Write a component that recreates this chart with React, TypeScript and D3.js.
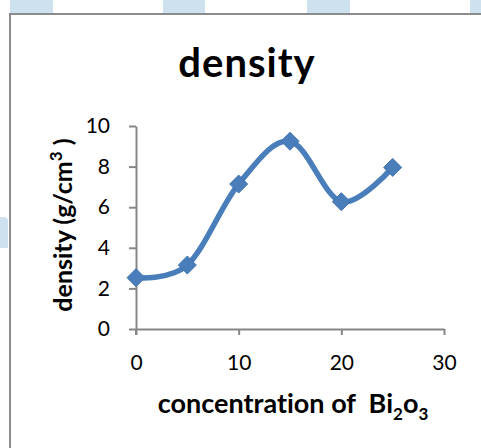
import React, { useEffect, useRef } from "react";
import * as d3 from "d3";

const concentration = [0, 5, 10, 15, 20, 25];
const density = [2.53, 3.15, 7.14, 9.25, 6.27, 7.96];
const xTicks = [0, 10, 20, 30];
const yTicks = [0, 2, 4, 6, 8, 10];

const width = 481;
const height = 448;
const font = "Lato, 'Open Sans', sans-serif";

export default function App() {
  const ref = useRef<SVGSVGElement>(null);

  useEffect(() => {
    const svg = d3.select(ref.current);
    svg.selectAll("*").remove();

    const margin = { top: 126, right: 37, bottom: 119, left: 136 };
    const x = d3.scaleLinear().domain([0, 30]).range([margin.left, width - margin.right]);
    const y = d3.scaleLinear().domain([0, 10]).range([height - margin.bottom, margin.top]);

    // background decoration from the page behind the chart
    const bands = [[10, 53], [163, 205], [307, 350], [470, 481]];
    svg.selectAll(".band")
      .data(bands)
      .enter()
      .append("rect")
      .attr("x", d => d[0])
      .attr("y", 0)
      .attr("width", d => d[1] - d[0])
      .attr("height", 14)
      .attr("fill", "#cde2ee");
    svg.append("path")
      .attr("d", "M0,248 L0,217 L4,217 Q8,217 8,221 L8,248 Z")
      .attr("fill", "#cde2ee");

    // chart frame
    svg.append("path")
      .attr("d", `M10,${height} L10,14 L${width},14`)
      .attr("fill", "none")
      .attr("stroke", "#8c8c8c")
      .attr("stroke-width", 2);

    svg.append("text")
      .attr("x", 247)
      .attr("y", 77)
      .attr("text-anchor", "middle")
      .attr("font-family", font)
      .attr("font-weight", "bold")
      .attr("font-size", 40)
      .attr("letter-spacing", 1)
      .text("density");

    const axisColor = "#868686";

    const xAxis = svg.append("g")
      .attr("transform", `translate(0,${y(0)})`)
      .call(d3.axisBottom(x).tickValues(xTicks).tickSize(6).tickSizeOuter(0).tickPadding(20));
    xAxis.select(".domain").attr("stroke", axisColor).attr("stroke-width", 2);
    xAxis.selectAll(".tick line").attr("stroke", axisColor).attr("stroke-width", 2);
    xAxis.selectAll(".tick text")
      .attr("fill", "#000")
      .attr("font-family", font)
      .attr("font-size", 21);

    const yAxis = svg.append("g")
      .attr("transform", `translate(${x(0)},0)`)
      .call(d3.axisLeft(y).tickValues(yTicks).tickSize(7).tickSizeOuter(0).tickPadding(19));
    yAxis.select(".domain").attr("stroke", axisColor).attr("stroke-width", 2);
    yAxis.selectAll(".tick line").attr("stroke", axisColor).attr("stroke-width", 2);
    yAxis.selectAll(".tick text")
      .attr("fill", "#000")
      .attr("font-family", font)
      .attr("font-size", 21);

    // extend y axis past origin like Excel does
    svg.append("line")
      .attr("x1", x(0)).attr("x2", x(0))
      .attr("y1", y(0)).attr("y2", y(0) + 6)
      .attr("stroke", axisColor).attr("stroke-width", 2);

    const yTitle = svg.append("text")
      .attr("transform", `translate(72,225) rotate(-90)`)
      .attr("text-anchor", "middle")
      .attr("font-family", font)
      .attr("font-weight", "bold")
      .attr("font-size", 25)
      .style("font-variant-ligatures", "none");
    yTitle.append("tspan").text("density (g/cm");
    yTitle.append("tspan").attr("font-size", 17).attr("dy", -10).text("3");
    yTitle.append("tspan").attr("dy", 10).text(" )");

    const xTitle = svg.append("text")
      .attr("x", 293)
      .attr("y", 413)
      .attr("text-anchor", "middle")
      .attr("font-family", font)
      .attr("font-weight", "bold")
      .attr("font-size", 27)
      .style("font-variant-ligatures", "none");
    xTitle.append("tspan").text("concentration of\u00a0 Bi");
    xTitle.append("tspan").attr("font-size", 17).attr("dy", 7).text("2");
    xTitle.append("tspan").attr("dy", -7).text("o");
    xTitle.append("tspan").attr("font-size", 17).attr("dy", 7).text("3");

    const pts: [number, number][] = concentration.map((c, i) => [x(c), y(density[i])]);
    const line = d3.line().curve(d3.curveCardinal.tension(0));

    svg.append("path")
      .attr("d", line(pts))
      .attr("fill", "none")
      .attr("stroke", "#4a7ebb")
      .attr("stroke-width", 5.5)
      .attr("stroke-linecap", "round");

    svg.selectAll(".marker")
      .data(pts)
      .enter()
      .append("path")
      .attr("transform", d => `translate(${d[0]},${d[1]})`)
      .attr("d", "M0,-9 L9,0 L0,9 L-9,0 Z")
      .attr("fill", "#4a7ebb")
      .attr("stroke", "#4173b0")
      .attr("stroke-width", 1);
  }, []);

  return (
    <svg
      ref={ref}
      width={width}
      height={height}
      style={{ position: "absolute", left: 0, top: 0, background: "#fff" }}
    />
  );
}
